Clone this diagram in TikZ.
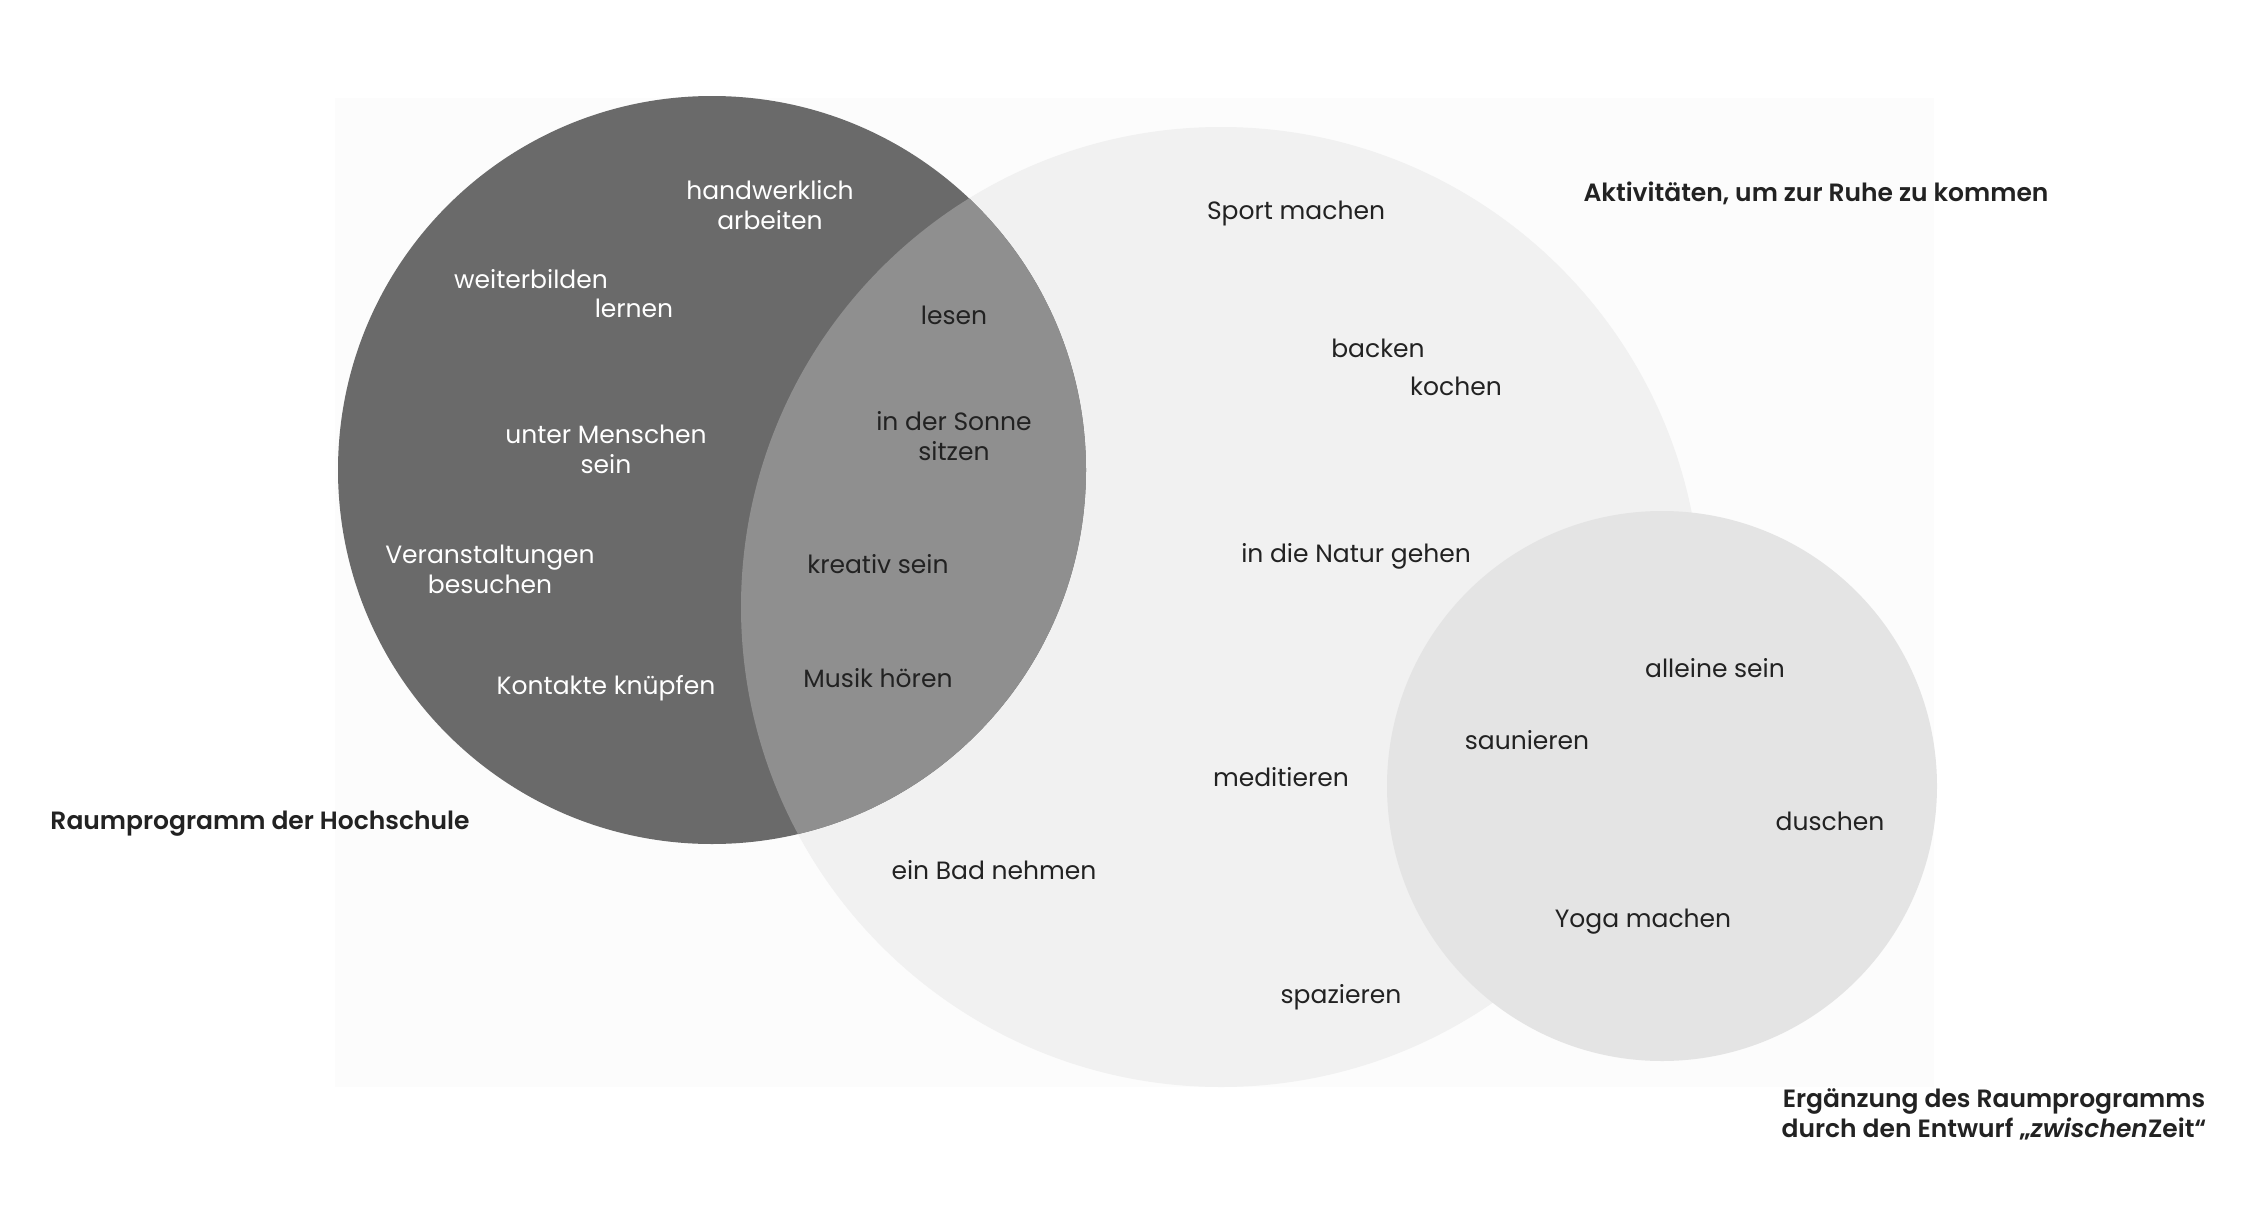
\documentclass[tikz,border=0pt]{standalone}
\usepackage{fontspec}
\setmainfont{Poppins}[BoldFont={Poppins SemiBold}]
\usetikzlibrary{positioning}
\definecolor{bgpaper}{HTML}{FCFCFC}
\definecolor{hochschule}{HTML}{6A6A6A}
\definecolor{schnitt}{HTML}{8F8F8F}
\definecolor{ruhe}{HTML}{F1F1F1}
\definecolor{entwurf}{HTML}{E4E4E4}
\definecolor{ink}{HTML}{222222}

\begin{document}
\begin{tikzpicture}[
    x=0.5pt, y=-0.5pt,
    txt/.style={font=\fontsize{12.5}{15}\selectfont, text=ink, align=center, inner sep=0pt},
    wtxt/.style={txt, text=white},
    hdr/.style={font=\fontsize{12.5}{15}\selectfont\bfseries, text=ink, align=center, inner sep=0pt}
]
\useasboundingbox (0,0) rectangle (2266,1226);
\fill[bgpaper] (335,98) rectangle (1934,1087);

% Kreise
\fill[ruhe] (1221,607) circle[radius=480];
\fill[entwurf] (1662,786) circle[radius=275];
\fill[hochschule] (712,470) circle[radius=374];
\begin{scope}
  \clip (712,470) circle[radius=374];
  \fill[schnitt] (1221,607) circle[radius=480];
\end{scope}

% Raumprogramm der Hochschule
\node[wtxt] (handw) at (770,205) {handwerklich\\arbeiten};
\node[wtxt] (weiter) at (531,279) {weiterbilden};
\node[wtxt] (lernen) at (634,308) {lernen};
\node[wtxt] (menschen) at (606,449) {unter Menschen\\sein};
\node[wtxt] (veranst) at (490,569) {Veranstaltungen\\besuchen};
\node[wtxt] (kontakte) at (606,688) {Kontakte knüpfen};

% Schnittmenge
\node[txt] (lesen) at (954,315) {lesen};
\node[txt] (sonne) at (954,436) {in der Sonne\\sitzen};
\node[txt] (kreativ) at (878,564) {kreativ sein};
\node[txt] (musik) at (878,678) {Musik hören};

% Aktivitaeten
\node[txt] (sport) at (1296,213) {Sport machen};
\node[txt] (backen) at (1378,348) {backen};
\node[txt] (kochen) at (1456,386) {kochen};
\node[txt] (natur) at (1356,556) {in die Natur gehen};
\node[txt] (medit) at (1281,777) {meditieren};
\node[txt] (bad) at (994,870) {ein Bad nehmen};
\node[txt] (spaz) at (1341,997) {spazieren};

% Entwurf
\node[txt] (alleine) at (1715,668) {alleine sein};
\node[txt] (sauna) at (1527,740) {saunieren};
\node[txt] (duschen) at (1830,821) {duschen};
\node[txt] (yoga) at (1643,922) {Yoga machen};

% Legenden
\node[hdr] (t_ruhe) at (1816,193) {Aktivitäten, um zur Ruhe zu kommen};
\node[hdr] (t_hs) at (260,824) {Raumprogramm der Hochschule};
\node[hdr] (t_entw) at (1994,1114) {Ergänzung des Raumprogramms\\durch den Entwurf „\textit{zwischen}Zeit“};
\end{tikzpicture}
\end{document}
